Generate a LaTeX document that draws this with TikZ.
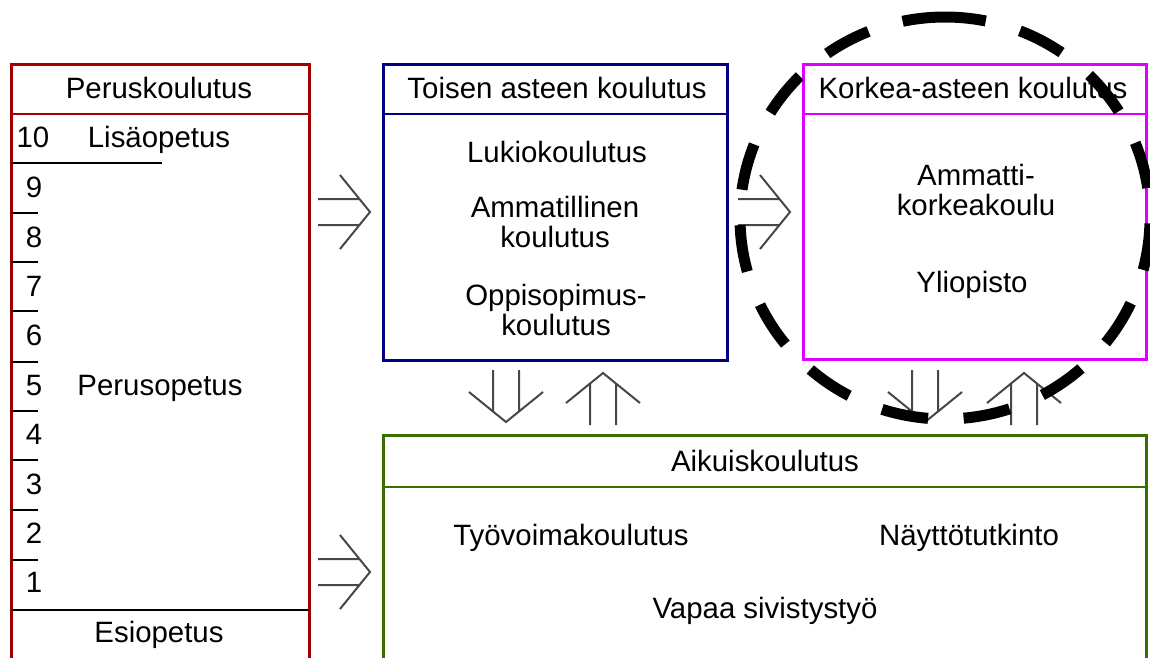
\documentclass[tikz,border=0pt]{standalone}
\usepackage{fontspec}
\setmainfont{Liberation Sans}
\definecolor{cred}{RGB}{160,0,0}
\definecolor{cblue}{RGB}{0,0,128}
\definecolor{cmag}{RGB}{221,0,255}
\definecolor{cgreen}{RGB}{58,110,0}
\begin{document}
\begin{tikzpicture}[x=1pt,y=-1pt,
  box/.style={draw, line width=3pt, inner sep=0pt, outer sep=0pt, anchor=north west},
  hline/.style={line width=1.5pt},
  tick/.style={black, line width=2pt},
  lbl/.style={anchor=base, inner sep=0pt, align=center, font=\fontsize{29.4}{30}\selectfont},
  arrowline/.style={black!72, line width=2pt},
  dblarr/.pic={\draw[arrowline] (-52,-13) -- (-10.5,-13) (-52,13) -- (-10.5,13) (-30,-37) -- (0,0) -- (-30,37);},
  ring/.style={black, line width=11pt, dash pattern=on 47pt off 35.6pt, dash phase=6pt}
]
\useasboundingbox (0,0) rectangle (1150,657);
\fill[white] (0,0) rectangle (1150,657);

% Peruskoulutus box
\node[box, draw=cred, minimum width=298pt, minimum height=596pt] (perus) at (11,64) {};
\draw[cred, hline] (11,114) -- (309,114);
\draw[tick] (11,163) -- (162,163);
\foreach \y in {213,262,311,362,411,460,510,560} \draw[tick] (11,\y) -- (38,\y);
\draw[tick] (11,610) -- (309,610);
\node[lbl] (t_perus) at (159,98) {Peruskoulutus};
\node[lbl] (n10) at (33,147) {10};
\node[lbl] (t_lisa) at (159,147) {Lisäopetus};
\foreach \n/\y in {9/197,8/247,7/296,6/345,5/395,4/444,3/494,2/543,1/592}
  \node[lbl] (n\n) at (34,\y) {\n};
\node[lbl] (t_perusop) at (160,395) {Perusopetus};
\node[lbl] (t_esi) at (159,642) {Esiopetus};

% Toisen asteen box
\node[box, draw=cblue, minimum width=344pt, minimum height=296pt] (toinen) at (383,64) {};
\draw[cblue, hline] (383,114) -- (727,114);
\node[lbl] (t_toinen) at (557,98) {Toisen asteen koulutus};
\node[lbl] (t_lukio) at (557,162) {Lukiokoulutus};
\node[lbl, anchor=north] (t_amm) at (555,196) {Ammatillinen\\koulutus};
\node[lbl, anchor=north] (t_oppi) at (556,284) {Oppisopimus-\\koulutus};

% Korkea-asteen box
\node[box, draw=cmag, minimum width=343pt, minimum height=295pt] (korkea) at (803,64) {};
\draw[cmag, hline] (803,114) -- (1146,114);
\node[lbl] (t_korkea) at (973,98) {Korkea-asteen koulutus};
\node[lbl, anchor=north] (t_amk) at (976,164) {Ammatti-\\korkeakoulu};
\node[lbl] (t_yo) at (972,292) {Yliopisto};

% Aikuiskoulutus box
\node[box, draw=cgreen, minimum width=763pt, minimum height=230pt] (aikuis) at (383,435) {};
\draw[cgreen, hline] (383,487) -- (1146,487);
\node[lbl] (t_aikuis) at (765,471) {Aikuiskoulutus};
\node[lbl] (t_tyo) at (571,545) {Työvoimakoulutus};
\node[lbl] (t_nayt) at (969,545) {Näyttötutkinto};
\node[lbl] (t_vapaa) at (765,618) {Vapaa sivistystyö};

% arrows
\pic at (370,212) {dblarr};
\pic at (790,212) {dblarr};
\pic at (370,572) {dblarr};
\pic[rotate=-90] at (506,422) {dblarr};
\pic[rotate=90] at (603,373) {dblarr};
\pic[rotate=-90] at (925,422) {dblarr};
\pic[rotate=90] at (1024,373) {dblarr};

% dashed highlight
\coordinate (ringc) at (945,218);
\draw[ring] (ringc) ++(0,-201) arc[start angle=-90, end angle=270, x radius=205, y radius=201];
\end{tikzpicture}
\end{document}
